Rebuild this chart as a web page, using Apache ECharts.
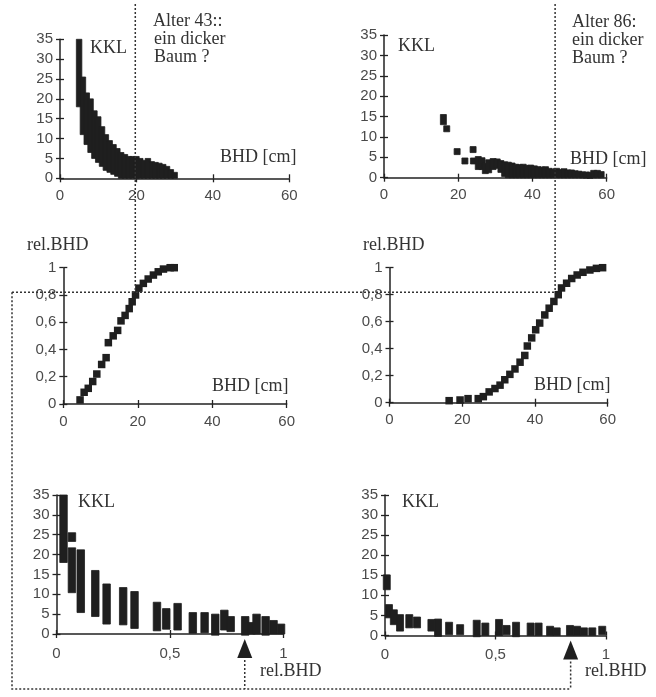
<!DOCTYPE html>
<html><head><meta charset="utf-8">
<script src="https://cdn.jsdelivr.net/npm/echarts@6/dist/echarts.min.js"></script>
<style>html,body{margin:0;padding:0;background:#fff}#c{width:656px;height:697px}</style>
</head><body><div id="c"></div><script>
// ---- Alter 43 : KKL vs BHD (top-left), ranges per BHD class
const tlBhd  = [5,6,7,8,9,10,11,12,13,14,15,16,17,18,19,20,21,22,23,24,25,26,27,28,29,30];
const tlLow  = [18,11,8.5,6.5,5,4,3,2,1.5,1,0.5,0,0,0,0,0,0,0,0,0,0,0,0,0,0,0];
const tlHigh = [35,25.5,21.5,20,17,15.5,13,11,9.5,8.5,7.5,6.5,6,5.5,5.5,5.5,5,4.5,5,4.2,4,3.8,3.5,3,2.2,1.5];
// ---- Alter 86 : KKL vs BHD (top-right)
const trBhd  = [16,16.9,19.7,21.8,24,24.1,25.4,26.4,27.3,28.2,29.4,30.5,31.5,32.5,33.5,34.5,35.5,36.5,37.5,38.5,39.5,40.5,41.5,42.5,43.5,44.5,45.5,46.5,47.5,48.5,49.5,50.5,51.5,52.5,53.5,54.5,55.5,56.5,57.5,58.5];
const trLow  = [13,12,6.4,4.1,6.9,4.1,2,2,1,1.2,2,2.3,1.3,0.3,0,0,0,0,0,0,0,0,0,0,0,0,0,0,0,0,0,0,0,0,0,0,0,0,0,0];
const trHigh = [15.5,12,6.4,4.1,6.9,4.1,5.2,4.9,3.5,4.4,4.7,4.6,4.2,3.9,3.8,3.6,3.3,3.2,3.3,3,3.1,2.9,2.7,2.6,2.7,2.3,2.1,2.3,2,2.2,1.9,1.9,1.7,1.6,1.4,1.3,1.2,1.8,1.8,1.5];
// ---- rel.BHD vs BHD (middle)
const mlBhd = [4.5,5.6,6.7,7.9,9.0,10.3,11.5,12.1,13.4,14.6,15.5,16.6,17.7,18.5,19.4,20.3,21.5,22.8,24.2,25.5,26.9,28.7,29.8];
const mlRel = [0.03,0.086,0.115,0.165,0.22,0.29,0.34,0.45,0.50,0.54,0.61,0.65,0.70,0.75,0.80,0.85,0.885,0.917,0.946,0.97,0.99,1.0,1.0];
const mrBhd = [16.4,19.4,21.6,24.4,25.8,27.4,29,30.4,31.7,33.1,34.5,35.9,37.2,37.9,39.1,40.2,41.3,42.7,43.9,45.2,46.4,47.3,48.7,50.1,51.6,53.2,55.1,56.9,58.6];
const mrRel = [0.015,0.02,0.03,0.03,0.045,0.08,0.105,0.13,0.17,0.21,0.25,0.30,0.35,0.42,0.48,0.54,0.59,0.65,0.70,0.75,0.80,0.85,0.885,0.92,0.946,0.966,0.983,0.995,1.0];
// ---- KKL vs rel.BHD (bottom)
const blRel  = [0.031,0.068,0.068,0.107,0.171,0.221,0.294,0.344,0.443,0.484,0.534,0.601,0.653,0.700,0.740,0.768,0.832,0.860,0.882,0.922,0.957,0.990];
const blLow  = [18,23.3,10.4,5.4,4.4,2.5,2.3,1.4,0.8,1.2,1.0,0.2,0.3,-0.3,1.0,0.6,-0.3,0,0,-0.3,0,0];
const blHigh = [35,25.5,21.7,21.2,16.0,12.6,11.7,10.7,8.0,6.4,7.7,5.4,5.4,5.0,6.0,4.4,4.4,2.9,5.0,4.4,3.4,2.5];
const brRel  = [0.008,0.018,0.04,0.068,0.11,0.145,0.21,0.24,0.29,0.34,0.415,0.454,0.516,0.55,0.593,0.659,0.695,0.747,0.777,0.837,0.869,0.90,0.938,0.983];
const brLow  = [11.4,4.4,2.7,1.1,1.9,1.9,1.1,-0.2,0.2,0.2,-0.3,0,0,0.2,-0.3,0,0,0,0,0,0,0,0,0.2];
const brHigh = [15.1,7.7,6.4,5.2,5.2,4.6,4.0,4.1,3.3,2.7,3.8,3.1,4.0,2.5,3.3,3.1,3.1,2.3,1.9,2.5,2.3,1.9,1.9,2.3];
// tick labels
const bhdTicks = [0,20,40,60];
const relTicks = ['0','0,5','1'];
// cut values for the guide lines
const cutBhd43 = 19.7, cutBhd86 = 46.1, cutRel = 0.82, arrowRel43 = 0.83, arrowRel86 = 0.84;

const INK = '#1f1f1f';
const SANS = '"Liberation Sans", Arial, sans-serif';
const SERIF = '"Liberation Serif", "Times New Roman", serif';

const grids = [
  {left:60,    top:39.3,  width:229.3, height:139},
  {left:384,   top:35,    width:222.7, height:142.7},
  {left:63.3,  top:267.7, width:223.4, height:136.3},
  {left:389.5, top:267.7, width:218.2, height:135},
  {left:56.5,  top:495,   width:226.8, height:139},
  {left:385,   top:495,   width:221,   height:140.5}
].map(g => Object.assign({outerBoundsMode:'none', containLabel:false}, g));

function axisPair(gi, min, max, interval, fmt, margin, pos) {
  const base = {type:'value', gridIndex:gi, min, max, interval, position:pos, splitLine:{show:false}};
  const main = Object.assign({}, base, {
    axisLine:{show:true, onZero:false, lineStyle:{color:'#222', width:1.5}},
    axisTick:{show:true, length:4, lineStyle:{color:'#222', width:1.3}},
    axisLabel:{color:'#4a4a4a', fontFamily:SANS, fontSize:15, margin, formatter:fmt}
  });
  const dup = Object.assign({}, base, {
    axisLine:{show:false},
    axisTick:{show:true, inside:true, length:4, lineStyle:{color:'#222', width:1.3}},
    axisLabel:{show:false}
  });
  return [main, dup];
}
const fmtBhd = v => String(bhdTicks[bhdTicks.indexOf(v)] ?? v);
const fmtRel = v => (v === 0 || v === 1) ? String(v) : v.toFixed(1).replace('.', ',');
const fmtRelX = v => relTicks[Math.round(v * 2)];
const fmtKKL = v => String(v);

const xAxis = [], yAxis = [];
[0,1,2,3].forEach(g => xAxis.push(...axisPair(g, 0, 60, 20, fmtBhd, 10, 'bottom')));
[4,5].forEach(g => xAxis.push(...axisPair(g, 0, 1, 0.5, fmtRelX, 12, 'bottom')));
[0,1].forEach(g => yAxis.push(...axisPair(g, 0, 35, 5, fmtKKL, 7, 'left')));
[2,3].forEach(g => yAxis.push(...axisPair(g, 0, 1, 0.2, fmtRel, 7, 'left')));
[4,5].forEach(g => yAxis.push(...axisPair(g, 0, 35, 5, fmtKKL, 7, 'left')));

function rangeSeries(gi, xs, lo, hi, w) {
  return {
    type:'custom', xAxisIndex:2*gi, yAxisIndex:2*gi, silent:true, clip:false,
    data: xs.map((x, i) => [x, lo[i], hi[i]]),
    encode:{x:0, y:[1,2]},
    renderItem: function(params, api) {
      const x = api.value(0), l = api.value(1), h = api.value(2);
      const pL = api.coord([x, l]), pH = api.coord([x, h]);
      let top = pH[1], bot = pL[1];
      if (bot - top < w) { const c = (top + bot) / 2; top = c - w / 2; bot = c + w / 2; }
      return {type:'rect', shape:{x:pL[0] - w / 2, y:top, width:w, height:bot - top},
        style:{fill:INK, stroke:INK, lineWidth:0.8}};
    }
  };
}
function pointSeries(gi, xs, ys) {
  return {type:'scatter', xAxisIndex:2*gi, yAxisIndex:2*gi, silent:true, symbol:'rect', symbolSize:7.5,
    itemStyle:{color:INK, opacity:1}, data: xs.map((x, i) => [x, ys[i]])};
}

const series = [
  rangeSeries(0, tlBhd, tlLow, tlHigh, 5.5),
  rangeSeries(1, trBhd, trLow, trHigh, 6),
  pointSeries(2, mlBhd, mlRel),
  pointSeries(3, mrBhd, mrRel),
  rangeSeries(4, blRel, blLow, blHigh, 7.5),
  rangeSeries(5, brRel, brLow, brHigh, 7)
];

function txt(t, x, y) {
  return {type:'text', silent:true, z:100, style:{text:t, x, y, font:'18px ' + SERIF, fill:'#333', align:'left', verticalAlign:'middle'}};
}
const texts = [
  txt('KKL', 90, 48), txt('Alter 43::', 153, 21), txt('ein dicker', 154, 39), txt('Baum ?', 154, 57.5),
  txt('BHD [cm]', 220, 157.5),
  txt('KKL', 398, 46), txt('Alter 86:', 572, 22), txt('ein dicker', 572, 40.5), txt('Baum ?', 572, 58.5),
  txt('BHD [cm]', 570, 159),
  txt('rel.BHD', 27, 245.7), txt('BHD [cm]', 212, 386),
  txt('rel.BHD', 363, 245.7), txt('BHD [cm]', 534, 385.5),
  txt('KKL', 78, 502), txt('KKL', 402, 502),
  txt('rel.BHD', 260, 671), txt('rel.BHD', 585, 671)
];

const chart = echarts.init(document.getElementById('c'), null, {renderer:'canvas'});
chart.setOption({
  animation:false, backgroundColor:'#fff',
  grid: grids, xAxis, yAxis, series, graphic: texts
});

const P = (g, v) => chart.convertToPixel({gridIndex:g}, v);
const vx1 = P(0, [cutBhd43, 0])[0];
const vx2 = P(1, [cutBhd86, 0])[0];
const hy  = P(2, [0, cutRel])[1];
const aL = P(4, [arrowRel43, 0]);
const aR = P(5, [arrowRel86, 0]);
const frameX = 12, frameY = 689;
const dot = {stroke:'#333', lineWidth:1.5, lineDash:[2,2]};
function line(pts) { return {type:'polyline', silent:true, z:50, shape:{points:pts}, style:Object.assign({fill:null}, dot)}; }
function tri(p) {
  return {type:'polygon', silent:true, z:60, shape:{points:[[p[0], p[1] + 5], [p[0] - 7.5, p[1] + 24], [p[0] + 7.5, p[1] + 24]]}, style:{fill:INK}};
}
chart.setOption({graphic: texts.concat([
  line([[vx1, 4], [vx1, hy]]),
  line([[vx2, 4], [vx2, hy]]),
  line([[frameX, hy], [vx2, hy]]),
  line([[frameX, hy], [frameX, frameY], [aR[0], frameY]]),
  line([[aL[0], aL[1] + 26], [aL[0], frameY]]),
  line([[aR[0], aR[1] + 26], [aR[0], frameY]]),
  tri(aL), tri(aR)
])});
</script></body></html>
